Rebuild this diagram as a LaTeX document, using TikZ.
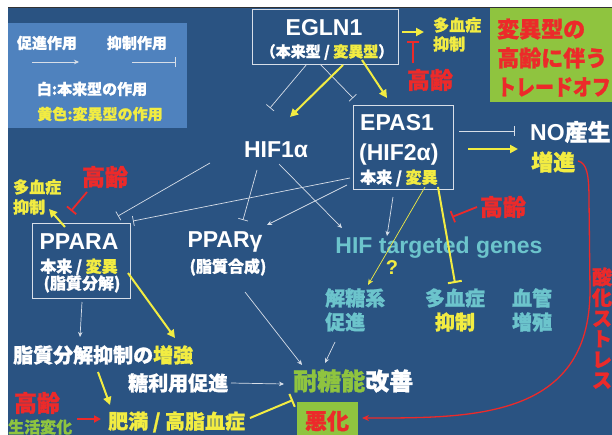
\documentclass[tikz,border=0pt]{standalone}
\usepackage{fontspec}
\setmainfont{Liberation Sans}
\newfontfamily\jp[BoldFeatures={FakeBold=1.2}]{Noto Sans CJK JP}
\usetikzlibrary{arrows.meta}
\definecolor{bg}{RGB}{42,83,130}
\definecolor{legbg}{RGB}{79,130,190}
\definecolor{ylw}{RGB}{242,236,66}
\definecolor{rd}{RGB}{236,42,42}
\definecolor{tl}{RGB}{108,196,204}
\definecolor{gr}{RGB}{143,196,63}
\definecolor{ln}{RGB}{215,222,232}
\tikzset{
 jt/.style={font=\jp\bfseries\fontsize{#1}{#1}\selectfont, inner sep=0pt, text=white},
 lt/.style={font=\bfseries\fontsize{#1}{#1}\selectfont, inner sep=0pt, text=white},
 boxnode/.style={draw=ln, line width=0.8pt, inner sep=0pt},
 wline/.style={draw=ln, line width=0.7pt},
 warr/.style={wline, -{Stealth[length=5pt,width=4.5pt]}},
 winh/.style={wline, -{Bar[width=10pt]}},
 yarr/.style={draw=ylw, line width=2pt, -{Triangle[length=8pt,width=8pt]}},
 ythin/.style={draw=ylw, line width=0.7pt, -{Stealth[length=6pt,width=5pt]}},
 yinh/.style={draw=ylw, line width=2pt, -{Bar[width=14pt]}},
 rinh/.style={draw=rd, line width=1.8pt, -{Bar[width=12pt]}},
 rarr/.style={draw=rd, line width=1.8pt, -{Triangle[length=7pt,width=7pt]}},
}
\begin{document}
\begin{tikzpicture}[x=1pt,y=-1pt]
\clip (0,0) rectangle (612,435);
\fill[white] (0,0) rectangle (612,435);
\fill[bg] (8,7) rectangle (612,435);
\draw[black!80, line width=1pt] (8,7.5) -- (612,7.5);

% legend
\fill[legbg] (8,23) rectangle (187,128);
\node[jt=15] (lgA) at (47,43) {促進作用};
\node[jt=15] (lgB) at (137,43) {抑制作用};
\coordinate (lgA1) at (32,62); \coordinate (lgA2) at (79,62);
\coordinate (lgB1) at (132,62); \coordinate (lgB2) at (176,62);
\draw[warr] (lgA1) -- (lgA2);
\draw[winh] (lgB1) -- (lgB2);
\node[jt=15] (lgW) at (92,89) {白:本来型の作用};
\node[jt=15, text=ylw] (lgY) at (100,114) {黄色:変異型の作用};

% trade-off box
\fill[gr] (490,8) rectangle (615,102);
\node[jt=22, text=rd, anchor=west] (to1) at (497,29) {変異型の};
\node[jt=22, text=rd, anchor=west] (to2) at (497,58) {高齢に伴う};
\node[jt=22, text=rd, anchor=west, transform shape, xscale=0.86] (to3) at (497,87) {トレードオフ};

% EGLN1
\node[boxnode, minimum width=146pt, minimum height=55pt] (eglnbox) at (325,36.5) {};
\node[lt=23] (egln) at (324,28) {EGLN1};
\node[jt=15] (eglnsub) at (327,52) {（本来型 / \textcolor{ylw}{変異型}）};
\node[jt=16, text=ylw, anchor=west] (tE1) at (433,25) {多血症};
\node[jt=16, text=ylw, anchor=west] (tE2) at (433,44) {抑制};
\node[jt=23, text=rd] (ageE) at (430,80) {高齢};

% EPAS1
\node[boxnode, minimum width=100pt, minimum height=84pt] (epasbox) at (403,147) {};
\node[lt=23, anchor=west] (epas) at (360,123) {EPAS1};
\node[lt=23, anchor=west] (hif2) at (359,155) {(HIF2α)};
\node[jt=16, anchor=west] (epsub) at (360,178) {本来 / \textcolor{ylw}{変異}};

% NO
\node[lt=23, anchor=west] (no) at (530,132) {NO{\jp 産生}};
\node[jt=22, text=ylw, anchor=west] (noup) at (531,162) {増進};

% HIF1a
\node[lt=23] (hif1) at (276,150) {HIF1α};

% PPARA
\node[boxnode, minimum width=98pt, minimum height=75pt] (pparabox) at (81,260.5) {};
\node[lt=23] (ppara) at (79,242) {PPARA};
\node[jt=16] (pparasub) at (79,267) {本来 / \textcolor{ylw}{変異}};
\node[jt=16] (pparasub2) at (82,284) {(脂質分解)};
\node[jt=16, text=ylw, anchor=west] (tA1) at (13,187) {多血症};
\node[jt=16, text=ylw, anchor=west] (tA2) at (13,207) {抑制};
\node[jt=23, text=rd] (ageA) at (105,177) {高齢};

% PPARg
\node[lt=23] (pparg) at (225,242) {PPARγ};
\node[jt=16] (ppargsub) at (228,267) {(脂質合成)};

% HIF targeted genes
\node[lt=23, text=tl] (hifg) at (439,248) {HIF targeted genes};
\node[lt=20, text=ylw] (q) at (392,268) {?};
\node[jt=23, text=rd] (ageP) at (503,207) {高齢};
\node[jt=20, text=tl, anchor=west] (gly1) at (325,298) {解糖系};
\node[jt=20, text=tl, anchor=west] (gly2) at (325,322) {促進};
\node[jt=20, text=tl] (poly1) at (455,298) {多血症};
\node[jt=20, text=ylw] (poly2) at (455,322) {抑制};
\node[jt=20, text=tl] (ves1) at (532,298) {血管};
\node[jt=20, text=tl] (ves2) at (532,322) {増殖};

% oxidative stress
\node[jt=20, text=rd, align=center, font=\jp\bfseries\fontsize{20}{20.6}\selectfont] (ox) at (602,328) {酸\\化\\ス\\ト\\レ\\ス};

% bottom
\node[jt=20, anchor=west] (lip) at (13,355) {脂質分解抑制の\textcolor{ylw}{増強}};
\node[jt=20, anchor=west] (sug) at (128,383) {糖利用促進};
\node[jt=24, anchor=west] (gt) at (293,381) {\textcolor{gr}{耐糖能}改善};
\fill[gr] (297,402) rectangle (358,440);
\node[jt=22, text=rd] (bad) at (327,421) {悪化};
\node[jt=20, text=ylw, anchor=west] (obe) at (108,422) {肥満 / 高脂血症};
\node[jt=23, text=rd] (ageB) at (37,403) {高齢};
\node[jt=16, text=gr, anchor=west] (life) at (8,427) {生活変化};

% coordinates
\coordinate (c1s) at (307,64);  \coordinate (c1e) at (270,108);
\coordinate (c2s) at (320,64);  \coordinate (c2e) at (353,98);
\coordinate (c3s) at (343,65);  \coordinate (c3e) at (290,117);
\coordinate (c4s) at (362,60);  \coordinate (c4e) at (387,98);
\coordinate (c5s) at (402,32);  \coordinate (c5e) at (424,32);
\coordinate (c6s) at (413,63);  \coordinate (c6e) at (413,41);
\coordinate (c7s) at (459,131); \coordinate (c7e) at (515,131);
\coordinate (c8s) at (468,149); \coordinate (c8e) at (518,149);
\coordinate (c9s) at (578,161); \coordinate (c9e) at (362,418);
\coordinate (c10s) at (393,197); \coordinate (c10e) at (387,236);
\coordinate (c11s) at (425,187); \coordinate (c11e) at (368,285);
\coordinate (c12s) at (438,187); \coordinate (c12e) at (455,283);
\coordinate (c13s) at (477,207); \coordinate (c13e) at (452,217);
\coordinate (c14s) at (210,163); \coordinate (c14e) at (118,216);
\coordinate (c15s) at (350,178); \coordinate (c15e) at (133,221);
\coordinate (c16s) at (257,170); \coordinate (c16e) at (243,220);
\coordinate (c17s) at (347,185); \coordinate (c17e) at (267,225);
\coordinate (c18s) at (279,164); \coordinate (c18e) at (342,228);
\coordinate (c19s) at (65,227);  \coordinate (c19e) at (49,209);
\coordinate (c20s) at (87,192);  \coordinate (c20e) at (71,211);
\coordinate (c21s) at (245,292); \coordinate (c21e) at (302,365);
\coordinate (c22s) at (335,342); \coordinate (c22e) at (325,363);
\coordinate (c23s) at (82,302);  \coordinate (c23e) at (80,337);
\coordinate (c24s) at (128,273); \coordinate (c24e) at (175,338);
\coordinate (c25s) at (231,383); \coordinate (c25e) at (284,384);
\coordinate (c26s) at (98,372);  \coordinate (c26e) at (110,405);
\coordinate (c27s) at (77,419);  \coordinate (c27e) at (101,419);
\coordinate (c28s) at (250,418); \coordinate (c28e) at (293,400);

% connectors
\draw[winh] (c1s) -- (c1e);
\draw[winh] (c2s) -- (c2e);
\draw[yarr] (c3s) -- (c3e);
\draw[yarr] (c4s) -- (c4e);
\draw[yarr] (c5s) -- (c5e);
\draw[rinh] (c6s) -- (c6e);
\draw[winh] (c7s) -- (c7e);
\draw[yarr] (c8s) -- (c8e);
\draw[draw=rd, line width=1.3pt, -{Stealth[length=7pt,width=6pt]}] (c9s) .. controls (587,163) and (589,175) .. (589,200) -- (590,290) .. controls (590,420) and (470,418) .. (c9e);
\draw[warr] (c10s) -- (c10e);
\draw[ythin] (c11s) -- (c11e);
\draw[yinh] (c12s) -- (c12e);
\draw[rinh] (c13s) -- (c13e);
\draw[winh] (c14s) -- (c14e);
\draw[winh] (c15s) -- (c15e);
\draw[winh] (c16s) -- (c16e);
\draw[warr] (c17s) -- (c17e);
\draw[warr] (c18s) -- (c18e);
\draw[yarr] (c19s) -- (c19e);
\draw[rinh] (c20s) -- (c20e);
\draw[warr] (c21s) -- (c21e);
\draw[warr] (c22s) -- (c22e);
\draw[warr] (c23s) -- (c23e);
\draw[yarr] (c24s) -- (c24e);
\draw[warr] (c25s) -- (c25e);
\draw[yarr] (c26s) -- (c26e);
\draw[rarr] (c27s) -- (c27e);
\draw[yinh] (c28s) -- (c28e);
\end{tikzpicture}
\end{document}
